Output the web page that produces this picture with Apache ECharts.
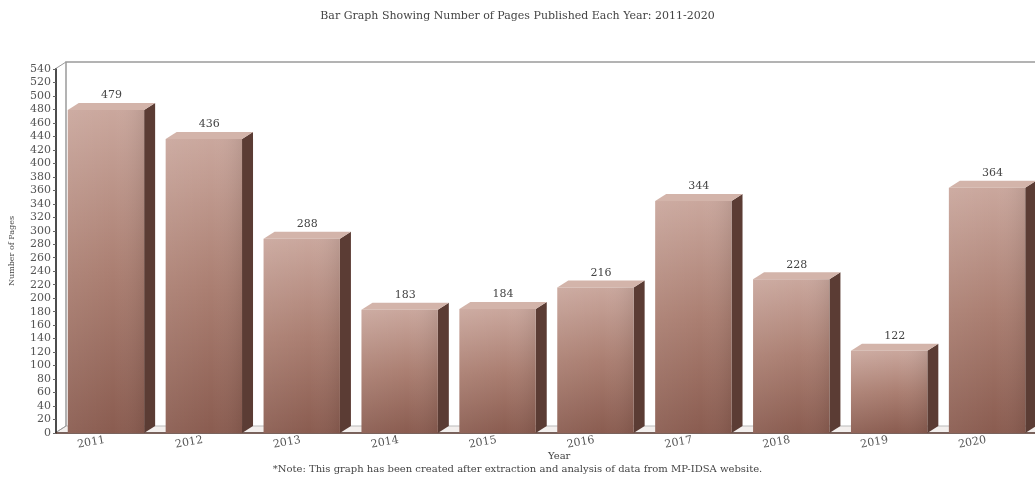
<!DOCTYPE html>
<html><head><meta charset="utf-8">
<script src="https://cdn.jsdelivr.net/npm/echarts@6/dist/echarts.min.js"></script>
<style>html,body{margin:0;padding:0;background:#fff}#c{width:1035px;height:480px}</style>
</head><body><div id="c"></div>
<script>
const years = ['2011','2012','2013','2014','2015','2016','2017','2018','2019','2020'];
const pages = [479, 436, 288, 183, 184, 216, 344, 228, 122, 364];
const yMin = 0, yMax = 540, yStep = 20;
const titleText = 'Bar Graph Showing Number of Pages Published Each Year: 2011-2020';
const yName = 'Number of Pages';
const xName = 'Year';
const noteText = '*Note: This graph has been created after extraction and analysis of data from MP-IDSA website.';

const FONT = 'DejaVu Serif';
const DX = 11, DY = 7;
const G = {left: 55, right: 0, top: 69, bottom: 47};
const W = 1035, H = 480;

function renderItem(params, api) {
  const i = api.value(0), v = api.value(1);
  const p0 = api.coord([i, 0]), p1 = api.coord([i, v]);
  const w = api.size([1, 0])[0] * 0.78;
  const cx = p0[0] + 1;
  const xl = cx - w / 2, xr = cx + w / 2, yb = p0[1], yt = p1[1];
  return {type: 'group', children: [
    {type: 'polygon', shape: {points: [[xr, yb], [xr + DX, yb - DY], [xr + DX, yt - DY], [xr, yt]]},
     style: {fill: '#5b3c34'}},
    {type: 'polygon', shape: {points: [[xl, yt], [xl + DX, yt - DY], [xr + DX, yt - DY], [xr, yt]]},
     style: {fill: '#d3b4aa'}},
    {type: 'rect', shape: {x: xl, y: yt, width: w, height: yb - yt},
     style: {fill: new echarts.graphic.LinearGradient(0, 0, 0, 1, [
       {offset: 0, color: '#caa79d'}, {offset: 0.5, color: '#ab7f72'}, {offset: 1, color: '#8a5c50'}])}},
    {type: 'rect', shape: {x: xl, y: yt, width: w, height: yb - yt},
     style: {fill: new echarts.graphic.LinearGradient(0, 0, 1, 0, [
       {offset: 0, color: 'rgba(255,255,255,0.06)'}, {offset: 0.6, color: 'rgba(255,255,255,0)'}, {offset: 1, color: 'rgba(0,0,0,0.08)'}])}},
    {type: 'text', style: {text: String(v), x: cx + DX / 2, y: yt - DY - 2, align: 'center', verticalAlign: 'bottom',
      font: '11px "DejaVu Serif"', fill: '#444'}}
  ]};
}

const x0 = G.left, y0 = H - G.bottom, xe = W - G.right, yTop = G.top;
const graphic = [
  {type: 'polygon', z: 0, shape: {points: [[x0, y0], [xe, y0], [xe + DX, y0 - DY], [x0 + DX, y0 - DY]]},
   style: {fill: '#f3efed', stroke: '#bbb', lineWidth: 1}},
  {type: 'polyline', z: 0, shape: {points: [[x0 + DX, y0 - DY], [x0 + DX, yTop - DY], [W, yTop - DY]]},
   style: {stroke: '#9a9a9a', lineWidth: 1.5, fill: null}},
  {type: 'line', z: 0, shape: {x1: x0, y1: yTop, x2: x0 + DX, y2: yTop - DY}, style: {stroke: '#9a9a9a', lineWidth: 1}},
  {type: 'line', z: 0, shape: {x1: x0, y1: y0, x2: x0 + DX, y2: y0 - DY}, style: {stroke: '#9a9a9a', lineWidth: 1}},
  {type: 'text', left: 548, top: 451, style: {text: xName, font: '10px "DejaVu Serif"', fill: '#444'}},
  {type: 'text', left: 'center', top: 464, style: {text: noteText, font: '10px "DejaVu Serif"', fill: '#444'}}
];

const chart = echarts.init(document.getElementById('c'));
chart.setOption({
  animation: false,
  backgroundColor: '#fff',
  title: {text: titleText, left: 'center', top: 6,
    textStyle: {fontFamily: FONT, fontSize: 11, fontWeight: 'normal', color: '#444'}},
  grid: {left: G.left, right: G.right, top: G.top, bottom: G.bottom, containLabel: false},
  xAxis: {type: 'category', data: years,
    axisLine: {lineStyle: {color: '#5a3b33', width: 1.5}},
    axisTick: {show: false},
    axisLabel: {rotate: 10, fontFamily: FONT, fontSize: 11, color: '#555', margin: 7}},
  yAxis: {type: 'value', min: yMin, max: yMax, interval: yStep,
    name: yName, nameLocation: 'middle', nameGap: 40,
    nameTextStyle: {fontFamily: FONT, fontSize: 8, color: '#444'},
    axisLine: {show: true, lineStyle: {color: '#111', width: 1.5}},
    axisTick: {show: true, length: 3, lineStyle: {color: '#666'}},
    axisLabel: {fontFamily: FONT, fontSize: 11, color: '#555', margin: 5},
    splitLine: {show: false}},
  graphic: graphic,
  series: [{type: 'custom', data: pages.map((v, i) => [i, v]), renderItem: renderItem, z: 3, clip: false}]
});
</script></body></html>
